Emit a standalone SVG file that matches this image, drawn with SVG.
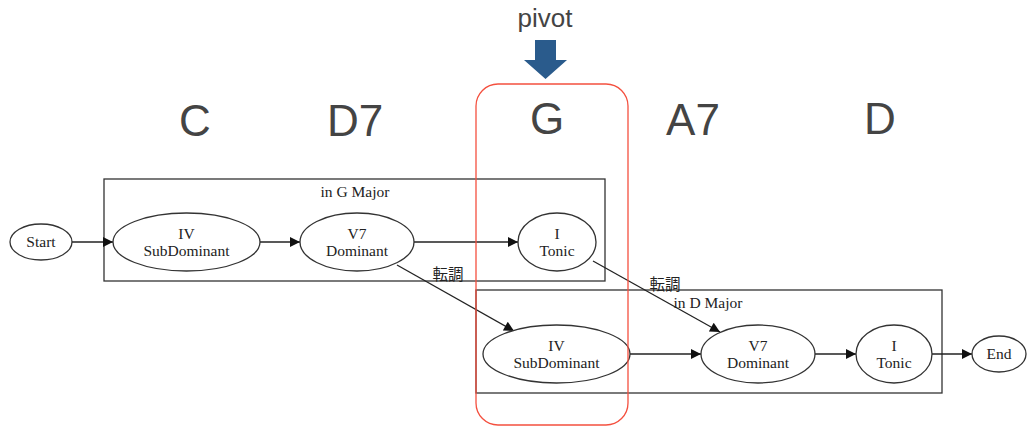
<svg xmlns="http://www.w3.org/2000/svg" width="1028" height="427" viewBox="0 0 1028 427">
  <style>
    .chord { font-family: "Liberation Sans", Arial, sans-serif; font-size: 44px; fill: #444; text-anchor: middle; }
    .pivot { font-family: "Liberation Sans", Arial, sans-serif; font-size: 26px; fill: #444; text-anchor: middle; }
    .node ellipse { fill: #fff; stroke: #333; stroke-width: 1.3; }
    .node text, .cluster text, .elabel { font-family: "Liberation Serif", "Times New Roman", "Noto Sans CJK JP", serif; font-size: 15.5px; fill: #222; text-anchor: middle; }
    .cluster rect { fill: none; stroke: #333; stroke-width: 1.3; }
    .edges line { stroke: #222; stroke-width: 1.3; marker-end: url(#ah); }
  </style>
  <defs>
    <marker id="ah" viewBox="0 0 10 10" refX="10" refY="5" markerWidth="13" markerHeight="10" markerUnits="userSpaceOnUse" orient="auto">
      <path d="M0,0 L10,5 L0,10 Z" fill="#111"/>
    </marker>
  </defs>
  <rect width="1028" height="427" fill="#fff"/>

  <!-- chord symbols -->
  <g id="chords">
    <text class="chord" x="195" y="136">C</text>
    <text class="chord" x="355" y="136">D7</text>
    <text class="chord" x="547" y="134">G</text>
    <text class="chord" x="693" y="135">A7</text>
    <text class="chord" x="880" y="134">D</text>
  </g>

  <!-- pivot marker -->
  <g id="pivot">
    <text class="pivot" x="545" y="27">pivot</text>
    <path d="M535,40 H556 V60 H567 L545.5,79 L524,60 H535 Z" fill="#2a5b8c"/>
  </g>

  <!-- key regions -->
  <g id="cluster_g" class="cluster">
    <rect x="104" y="179" width="501" height="102"/>
    <text x="355" y="197">in G Major</text>
  </g>
  <g id="cluster_d" class="cluster">
    <rect x="476" y="290" width="466" height="103"/>
    <text x="708" y="308">in D Major</text>
  </g>

  <!-- connectors -->
  <g id="edges" class="edges">
    <line x1="72" y1="242" x2="113" y2="242"/>
    <line x1="260" y1="242" x2="300" y2="242"/>
    <line x1="414" y1="242" x2="518" y2="242"/>
    <line x1="397" y1="265" x2="514" y2="331"/>
    <line x1="593" y1="261" x2="720" y2="332"/>
    <line x1="630" y1="354" x2="701" y2="354"/>
    <line x1="815" y1="354" x2="856" y2="354"/>
    <line x1="932" y1="354" x2="972" y2="354"/>
    <text class="elabel" x="448" y="280">転調</text>
    <text class="elabel" x="665" y="290">転調</text>
  </g>

  <!-- nodes -->
  <g id="start" class="node">
    <ellipse cx="41" cy="242" rx="31" ry="18"/>
    <text x="41" y="247">Start</text>
  </g>
  <g id="g_iv" class="node">
    <ellipse cx="186.5" cy="242" rx="73.5" ry="29"/>
    <text x="186.5" y="239">IV</text>
    <text x="186.5" y="256">SubDominant</text>
  </g>
  <g id="g_v7" class="node">
    <ellipse cx="357" cy="242" rx="57" ry="29"/>
    <text x="357" y="239">V7</text>
    <text x="357" y="256">Dominant</text>
  </g>
  <g id="g_i" class="node">
    <ellipse cx="557" cy="242" rx="39" ry="29"/>
    <text x="557" y="239">I</text>
    <text x="557" y="256">Tonic</text>
  </g>
  <g id="d_iv" class="node">
    <ellipse cx="556.5" cy="354" rx="73.5" ry="29"/>
    <text x="556.5" y="351">IV</text>
    <text x="556.5" y="368">SubDominant</text>
  </g>
  <g id="d_v7" class="node">
    <ellipse cx="758" cy="354" rx="57" ry="29"/>
    <text x="758" y="351">V7</text>
    <text x="758" y="368">Dominant</text>
  </g>
  <g id="d_i" class="node">
    <ellipse cx="894" cy="354" rx="38" ry="29"/>
    <text x="894" y="351">I</text>
    <text x="894" y="368">Tonic</text>
  </g>
  <g id="end" class="node">
    <ellipse cx="999" cy="354" rx="27" ry="18"/>
    <text x="999" y="359">End</text>
  </g>

  <!-- pivot chord highlight -->
  <rect id="pivot_frame" x="476" y="84" width="152" height="341" rx="22" fill="none" stroke="#f4503f" stroke-width="1.3"/>
</svg>
